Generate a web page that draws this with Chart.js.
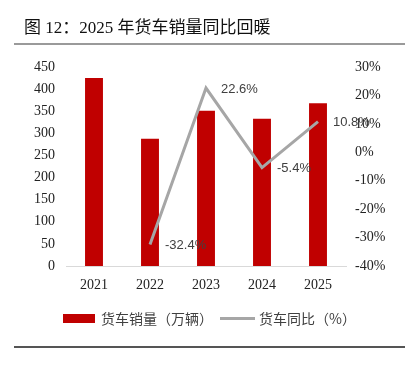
<!DOCTYPE html>
<html>
<head>
<meta charset="utf-8">
<script src="https://cdn.jsdelivr.net/npm/chart.js@4.4.0/dist/chart.umd.min.js"></script>
<style>
    html, body { margin: 0; padding: 0; background: #fff; }
    #wrap { position: relative; width: 409px; height: 370px; overflow: hidden; }
    #chart { position: absolute; left: 0; top: 0; }
    .title {
        position: absolute; left: 24px; top: 13px;
        font: 17px "Liberation Serif", "Noto Sans CJK SC", serif;
        color: #111; white-space: nowrap;
    }
    .rule-top { position: absolute; left: 14px; top: 43px; width: 391px; height: 2px; background: #9a9a9a; }
    .rule-bottom { position: absolute; left: 14px; top: 346px; width: 391px; height: 2px; background: #555; }
    .legend {
        position: absolute; top: 309px; left: 63px; height: 18px;
        font: 14px "Noto Sans CJK SC", sans-serif; color: #404040;
        display: flex; align-items: center; white-space: nowrap;
    }
    .sw-bar { width: 32px; height: 9px; background: #c00000; margin-right: 6px; }
    .sw-line { width: 35px; height: 3px; background: #a6a6a6; margin: 0 4px 0 7px; }
</style>
</head>
<body>
<div id="wrap">
    <canvas id="chart" width="409" height="370"></canvas>
    <div class="title">图 12：2025 年货车销量同比回暖</div>
    <div class="rule-top"></div>
    <div class="legend">
        <span class="sw-bar"></span><span>货车销量（万辆）</span>
        <span class="sw-line"></span><span>货车同比（%）</span>
    </div>
    <div class="rule-bottom"></div>
</div>
<script>
const years = ['2021', '2022', '2023', '2024', '2025'];
const salesValues = [425, 288, 351, 333, 368];
const yoyValues = [null, -32.4, 22.6, -5.4, 10.8];

const barColor = '#c00000';
const lineColor = '#a6a6a6';

// labels next to the line points
const pointLabels = {
    id: 'pointLabels',
    afterDatasetsDraw(chart) {
        const ctx = chart.ctx;
        const meta = chart.getDatasetMeta(0);
        ctx.save();
        ctx.font = '13px "Liberation Sans", sans-serif';
        ctx.fillStyle = '#404040';
        ctx.textAlign = 'left';
        ctx.textBaseline = 'middle';
        meta.data.forEach((pt, i) => {
            const v = yoyValues[i];
            if (v === null) return;
            ctx.fillText(v.toFixed(1) + '%', pt.x + 15, pt.y + 1);
        });
        ctx.restore();
    }
};

const tickFont = { family: 'Liberation Serif', size: 14 };

new Chart(document.getElementById('chart'), {
    data: {
        labels: years,
        datasets: [
            {
                type: 'line',
                label: '货车同比（%）',
                data: yoyValues,
                yAxisID: 'y1',
                borderColor: lineColor,
                borderWidth: 3,
                pointRadius: 0,
                tension: 0,
                order: 0
            },
            {
                type: 'bar',
                label: '货车销量（万辆）',
                data: salesValues,
                yAxisID: 'y',
                backgroundColor: barColor,
                barPercentage: 0.32,
                categoryPercentage: 1,
                order: 1
            }
        ]
    },
    options: {
        responsive: false,
        animation: false,
        layout: { padding: { top: 67, left: 0, right: 0, bottom: 0 } },
        plugins: {
            legend: { display: false },
            tooltip: { enabled: false }
        },
        scales: {
            x: {
                grid: { display: false, drawTicks: false },
                border: { display: true, color: '#d9d9d9', width: 1 },
                ticks: { color: '#222', font: tickFont, padding: 11 },
                afterFit: (scale) => { scale.height = 104; }
            },
            y: {
                position: 'left',
                min: 0,
                max: 450,
                grid: { display: false, drawTicks: false },
                border: { display: false },
                ticks: { stepSize: 50, color: '#222', font: tickFont, padding: 11 },
                afterFit: (scale) => { scale.width = 66; }
            },
            y1: {
                position: 'right',
                min: -40,
                max: 30,
                grid: { display: false, drawTicks: false },
                border: { display: false },
                ticks: {
                    stepSize: 10,
                    color: '#222',
                    font: tickFont,
                    padding: 9,
                    callback: (v) => v + '%'
                },
                afterFit: (scale) => { scale.width = 63; }
            }
        }
    },
    plugins: [pointLabels]
});
</script>
</body>
</html>
